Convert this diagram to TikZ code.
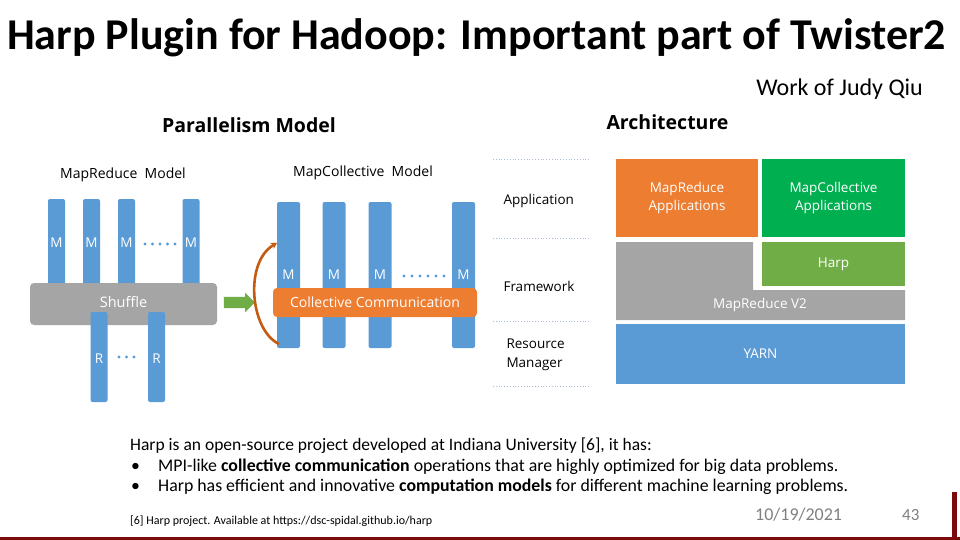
\documentclass[tikz,border=0pt]{standalone}
\usepackage{fontspec}
\setmainfont{Carlito}
\newfontfamily\uifont{Open Sans}
\usetikzlibrary{shapes.arrows,arrows.meta}

\definecolor{barblue}{HTML}{5B9BD5}
\definecolor{boxorange}{HTML}{ED7D31}
\definecolor{boxgray}{HTML}{A5A5A5}
\definecolor{harpgreen}{HTML}{70AD47}
\definecolor{appgreen}{HTML}{00B050}
\definecolor{curvebrown}{HTML}{C55A11}
\definecolor{slidered}{HTML}{7B0A0A}
\definecolor{dotline}{HTML}{A9BCD6}

\newcommand{\uisize}[1]{\uifont\fontsize{#1}{1.4\dimexpr#1pt\relax}\selectfont}

\begin{document}
\begin{tikzpicture}[
    x=1pt,
    y=-1pt,
    >=Stealth,
    mbar/.style={fill=barblue,rounded corners=2pt,inner sep=0pt,
      minimum width=17pt,text=white,font=\uisize{13.5}},
    cbar/.style={fill=barblue,rounded corners=2pt,inner sep=0pt,
      minimum width=23pt,minimum height=146pt,text=white,font=\uisize{13.5}},
    band/.style={rounded corners=4pt,inner sep=0pt,text=white},
    layer/.style={inner sep=0pt,text=white,align=center,font=\uisize{13.5}},
    rowlabel/.style={anchor=west,align=left,font=\uisize{13.5}},
    dotsep/.style={dotline,dotted,thick},
    bluedot/.style={fill=barblue},
    heading/.style={font=\uifont\bfseries\fontsize{19.5}{22}\selectfont},
    smallhead/.style={font=\uisize{14}}
  ]
    \useasboundingbox (0,0) rectangle (960,540);

    % title
    \node[anchor=west,font=\bfseries\fontsize{44}{44}\selectfont,inner sep=0pt]
      (title) at (7,38) {Harp Plugin for Hadoop: Important part of Twister2};
    \node[anchor=east,font=\fontsize{24}{24}\selectfont,inner sep=0pt]
      (author) at (923,89) {Work of Judy Qiu};

    % parallelism model
    \node[heading] (parhead) at (249,125) {Parallelism Model};
    \node[smallhead] (mrhead) at (123,175) {MapReduce\ \ Model};
    \node[smallhead] (mchead) at (363,173) {MapCollective\ \ Model};

    \node[mbar,minimum height=88pt] (m1) at (56.5,243) {M};
    \node[mbar,minimum height=88pt] (m2) at (91.5,243) {M};
    \node[mbar,minimum height=88pt] (m3) at (126.5,243) {M};
    \node[mbar,minimum height=88pt] (m4) at (191,243) {M};
    \foreach \x in {145,152.5,160,167.5,175}
      \fill[bluedot] (\x,244) circle (1.7);

    \node[band,fill=boxgray,minimum width=187pt,minimum height=42pt]
      (shuffle) at (123.5,304) {};
    \node[text=white,font=\uisize{14.5}] (shufflelab) at (123.5,302) {Shuffle};

    \node[mbar,minimum height=90pt] (r1) at (99,357) {};
    \node[mbar,minimum height=90pt] (r2) at (156.5,357) {};
    \node[text=white,font=\uisize{13.5}] (r1lab) at (99,359) {R};
    \node[text=white,font=\uisize{13.5}] (r2lab) at (156.5,359) {R};
    \foreach \x in {119,126.5,134}
      \fill[bluedot] (\x,357) circle (1.7);

    \node[cbar] (c1) at (288.5,275) {M};
    \node[cbar] (c2) at (334,275) {M};
    \node[cbar] (c3) at (380,275) {M};
    \node[cbar] (c4) at (463.5,275) {M};
    \foreach \x in {404,412,420,428,436,444}
      \fill[bluedot] (\x,276) circle (1.7);

    \node[band,fill=boxorange,minimum width=204pt,minimum height=29pt,
      font=\uisize{14}] (collect) at (375,302.5) {Collective Communication};

    \node[single arrow,fill=harpgreen,inner sep=5.5pt,minimum height=31pt,
      single arrow head extend=4pt,single arrow head indent=0pt,
      single arrow tip angle=90] (shift) at (236.5,302.5) {};

    \coordinate (cstart) at (279,344);
    \coordinate (cend) at (277,243);
    \draw[curvebrown,line width=2.6pt,-{Stealth[length=6pt,width=7pt]}]
      (cstart) .. controls (250,330) and (244,262) .. (cend);

    % architecture
    \node[heading,anchor=west] (archhead) at (603,122) {Architecture};

    \draw[dotsep] (493,159) -- (590,159);
    \draw[dotsep] (493,238) -- (590,238);
    \draw[dotsep] (493,321) -- (590,321);
    \draw[dotsep] (493,386) -- (590,386);

    \node[rowlabel] (applab) at (500,201) {Application};
    \node[rowlabel] (fwlab) at (500,286) {Framework};
    \node[rowlabel] (rmlab) at (503,355) {Resource\\Manager};

    \node[layer,fill=boxorange,minimum width=142pt,minimum height=78pt]
      (mrapp) at (687,198) {MapReduce\\Applications};
    \node[layer,fill=appgreen,minimum width=143pt,minimum height=78pt]
      (mcapp) at (833.5,198) {MapCollective\\Applications};
    \fill[boxgray] (616,242) -- (753,242) -- (753,290) -- (905,290)
      -- (905,320) -- (616,320) -- cycle;
    \node[layer] (mrv2) at (760,305) {MapReduce V2};
    \node[layer,fill=harpgreen,minimum width=143pt,minimum height=44pt]
      (harp) at (833.5,264) {Harp};
    \node[layer,fill=barblue,minimum width=289pt,minimum height=60pt]
      (yarn) at (760.5,354) {YARN};

    % text below
    \node[anchor=west,font=\fontsize{17.5}{17.5}\selectfont,inner sep=0pt]
      (intro) at (130,446)
      {Harp is an open-source project developed at Indiana University [6], it has:};
    \node[anchor=west,font=\fontsize{17.8}{17.8}\selectfont,inner sep=0pt]
      (bul1) at (130,467) {\makebox[28pt][l]{\hspace{1pt}\textbullet}MPI-like
      \textbf{collective communication} operations that are highly optimized for big data problems.};
    \node[anchor=west,font=\fontsize{17.8}{17.8}\selectfont,inner sep=0pt]
      (bul2) at (130,487) {\makebox[28pt][l]{\hspace{1pt}\textbullet}Harp has
      efficient and innovative \textbf{computation models} for different machine learning problems.};
    \node[anchor=west,font=\fontsize{12}{12}\selectfont,inner sep=0pt]
      (ref) at (130,521) {[6] Harp project. Available at https://dsc-spidal.github.io/harp};
    \node[anchor=west,text=gray,font=\fontsize{18}{18}\selectfont,inner sep=0pt]
      (date) at (755,515) {10/19/2021};
    \node[anchor=west,text=gray,font=\fontsize{17}{17}\selectfont,inner sep=0pt]
      (page) at (902,515) {43};

    % slide frame
    \fill[slidered] (0,537) rectangle (960,540);
    \fill[slidered] (952,492) rectangle (957,540);
  \end{tikzpicture}
\end{document}
